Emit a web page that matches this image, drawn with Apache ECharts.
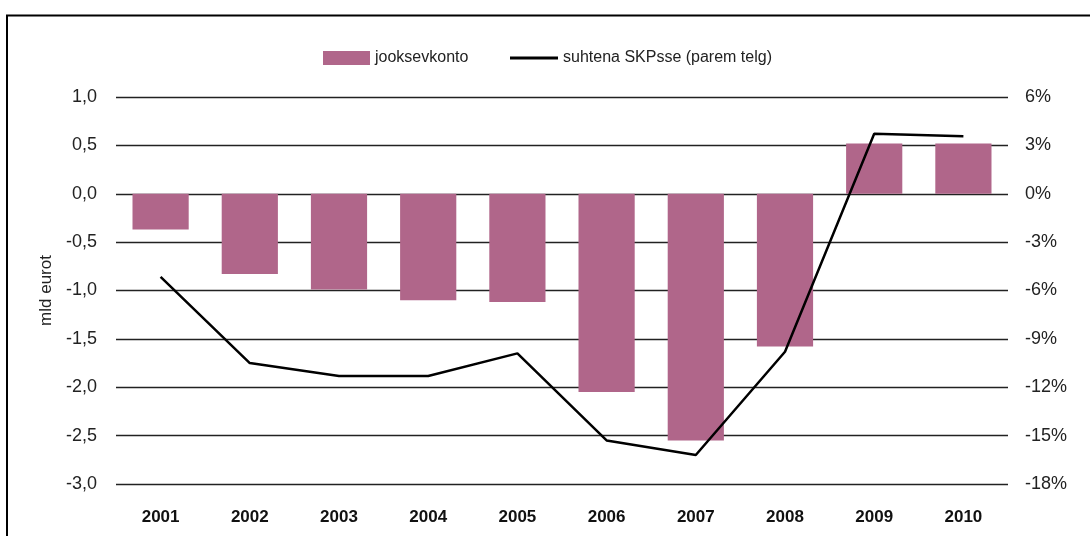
<!DOCTYPE html>
<html>
<head>
<meta charset="utf-8">
<script src="https://cdn.jsdelivr.net/npm/echarts@6/dist/echarts.min.js"></script>
<style>html,body{margin:0;padding:0;background:#fff}#c{width:1090px;height:536px}</style>
</head>
<body>
<div id="c"></div>
<script>
var years = ['2001','2002','2003','2004','2005','2006','2007','2008','2009','2010'];
var currentAccount = [-0.37, -0.83, -0.99, -1.10, -1.12, -2.05, -2.55, -1.58, 0.52, 0.52];
var shareOfGdp = [-5.15, -10.5, -11.3, -11.3, -9.9, -15.3, -16.2, -9.8, 3.72, 3.56];
var leftTicks = { min: -3, max: 1, interval: 0.5 };
var rightTicks = { min: -18, max: 6, interval: 3 };
var seriesNames = ['jooksevkonto', 'suhtena SKPsse (parem telg)'];
var leftAxisName = 'mld eurot';

var font = 'Liberation Sans';
var chart = echarts.init(document.getElementById('c'), null, {renderer: 'canvas'});
chart.setOption({
  animation: false,
  backgroundColor: '#fff',
  graphic: [{
    type: 'rect',
    shape: {x: 7, y: 15.5, width: 1200, height: 700},
    style: {fill: 'none', stroke: '#000', lineWidth: 2}
  }],
  legend: [{
    left: 318, top: 45,
    itemWidth: 47, itemHeight: 14,
    textStyle: {fontFamily: font, fontSize: 16, color: '#222'},
    data: [{name: seriesNames[0], icon: 'rect'}]
  }, {
    left: 505, top: 45,
    itemWidth: 48, itemHeight: 3,
    textStyle: {fontFamily: font, fontSize: 16, color: '#222'},
    data: [{name: seriesNames[1], icon: 'rect'}]
  }],
  grid: {left: 116, right: 82, top: 97, bottom: 52, containLabel: false},
  xAxis: {
    type: 'category', data: years,
    axisLine: {show: false}, axisTick: {show: false},
    axisLabel: {fontFamily: font, fontSize: 17, fontWeight: 'bold', color: '#111', margin: 25}
  },
  yAxis: [{
    type: 'value', min: leftTicks.min, max: leftTicks.max, interval: leftTicks.interval,
    name: leftAxisName, nameLocation: 'middle', nameGap: 60, nameRotate: 90,
    nameTextStyle: {fontFamily: font, fontSize: 17, color: '#222'},
    axisLine: {show: false}, axisTick: {show: false},
    splitLine: {show: true, lineStyle: {color: '#222', width: 1.3}},
    axisLabel: {fontFamily: font, fontSize: 18, color: '#222', margin: 19,
      formatter: function (v) { return v.toFixed(1).replace('.', ','); }}
  }, {
    type: 'value', min: rightTicks.min, max: rightTicks.max, interval: rightTicks.interval,
    position: 'right',
    axisLine: {show: false}, axisTick: {show: false}, splitLine: {show: false},
    axisLabel: {fontFamily: font, fontSize: 18, color: '#222', margin: 17,
      formatter: function (v) { return v + '%'; }}
  }],
  series: [{
    name: seriesNames[0], type: 'bar', data: currentAccount,
    barWidth: '63%', itemStyle: {color: '#B0668A'}, yAxisIndex: 0, z: 2
  }, {
    name: seriesNames[1], type: 'line', data: shareOfGdp, yAxisIndex: 1,
    symbol: 'none', showSymbol: false,
    lineStyle: {color: '#000', width: 2.5}, itemStyle: {color: '#000'}, z: 3
  }]
});
</script>
</body>
</html>
